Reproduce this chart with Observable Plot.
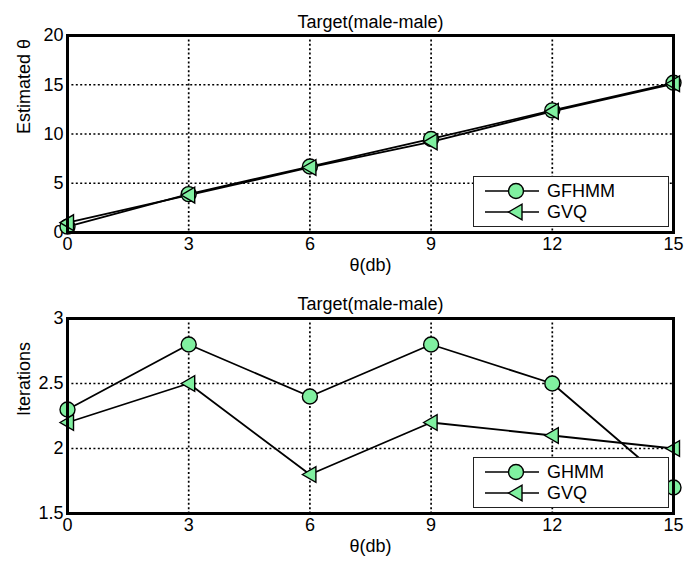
<!DOCTYPE html>
<html>
<head>
<meta charset="utf-8">
<script src="https://cdn.jsdelivr.net/npm/d3@7"></script>
<script src="https://cdn.jsdelivr.net/npm/@observablehq/plot@0.6"></script>
<style>
  body { margin: 0; background: white; }
  #wrap { position: relative; width: 694px; height: 564px; font-family: "Liberation Sans", Arial, sans-serif; }
  .legend { position: absolute; box-sizing: border-box; background: white; border: 1px solid #222; }
</style>
</head>
<body>
<div id="wrap"></div>
<script>
// ---- data ----
const xValues = [0, 3, 6, 9, 12, 15];
const xTicks = [0, 3, 6, 9, 12, 15];
const topTicksY = [0, 5, 10, 15, 20];
const bottomTicksY = [1.5, 2, 2.5, 3];
const titleText = "Target(male-male)";
const xLabelText = "θ(db)";
const topYLabel = "Estimated θ";
const bottomYLabel = "Iterations";
const topSeriesNames = ["GFHMM", "GVQ"];
const bottomSeriesNames = ["GHMM", "GVQ"];
const topGFHMM = [0.6, 3.9, 6.7, 9.5, 12.4, 15.2];
const topGVQ = [1.0, 3.8, 6.6, 9.2, 12.3, 15.1];
const bottomGHMM = [2.3, 2.8, 2.4, 2.8, 2.5, 1.7];
const bottomGVQ = [2.2, 2.5, 1.8, 2.2, 2.1, 2.0];

const markerFill = "#80f0a0";
const FONT = "'Liberation Sans', Arial, sans-serif";

const triangleLeft = {
  draw(context, size) {
    const r = Math.sqrt(size / Math.PI);
    context.moveTo(-r, 0);
    context.lineTo(r * 0.8, -r * 1.05);
    context.lineTo(r * 0.8, r * 1.05);
    context.closePath();
  }
};

function toRows(vals) { return xValues.map((x, i) => ({x, y: vals[i]})); }

function makePlot({yDomain, yTicks, yLabel, s1, s2, marginTop, marginBottom, height, titleDy}) {
  const d1 = toRows(s1), d2 = toRows(s2);
  return Plot.plot({
    width: 694,
    height,
    marginLeft: 67,
    marginRight: 21,
    marginTop,
    marginBottom,
    style: {fontFamily: FONT, fontSize: "18px", color: "black", background: "white", overflow: "visible"},
    x: {domain: [0, 15], label: null},
    y: {domain: yDomain, label: null},
    marks: [
      Plot.gridX(xTicks, {stroke: "black", strokeOpacity: 1, strokeWidth: 1.7, strokeDasharray: "2,2.4"}),
      Plot.gridY(yTicks, {stroke: "black", strokeOpacity: 1, strokeWidth: 1.7, strokeDasharray: "2,2.4"}),
      Plot.axisX(xTicks, {tickSize: 0, tickPadding: 5, fontSize: 18}),
      Plot.axisY(yTicks, {tickSize: 0, tickPadding: 4, fontSize: 18, tickFormat: d => String(d)}),
      Plot.line(d1, {x: "x", y: "y", stroke: "black", strokeWidth: 1.8}),
      Plot.line(d2, {x: "x", y: "y", stroke: "black", strokeWidth: 1.8}),
      Plot.dot(d1, {x: "x", y: "y", r: 7.5, symbol: "circle", fill: markerFill, stroke: "black", strokeWidth: 1.4}),
      Plot.dot(d2, {x: "x", y: "y", r: 7.5, symbol: triangleLeft, fill: markerFill, stroke: "black", strokeWidth: 1.4}),
      Plot.frame({stroke: "black", strokeWidth: 3}),
      Plot.text([titleText], {frameAnchor: "top", dy: titleDy, fontSize: 18, fill: "black"}),
      Plot.text([xLabelText], {frameAnchor: "bottom", dy: 38, fontSize: 18, fill: "black"}),
      Plot.text([yLabel], {frameAnchor: "left", dx: -43, rotate: -90, fontSize: 18, fill: "black"})
    ]
  });
}

const wrap = document.getElementById("wrap");

const topChart = makePlot({
  yDomain: [0, 20], yTicks: topTicksY, yLabel: topYLabel,
  s1: topGFHMM, s2: topGVQ, marginTop: 35, marginBottom: 50, height: 282, titleDy: -20
});
const bottomChart = makePlot({
  yDomain: [1.5, 3], yTicks: bottomTicksY, yLabel: bottomYLabel,
  s1: bottomGHMM, s2: bottomGVQ, marginTop: 36, marginBottom: 51, height: 282, titleDy: -21
});
topChart.style.display = "block";
bottomChart.style.display = "block";
wrap.appendChild(topChart);
wrap.appendChild(bottomChart);

function makeLegend(names, left, topPx) {
  const div = document.createElement("div");
  div.className = "legend";
  div.style.left = left + "px";
  div.style.top = topPx + "px";
  div.style.width = "196px";
  div.style.height = "51px";
  const svg = d3.create("svg").attr("width", 194).attr("height", 49)
    .style("display", "block").style("overflow", "visible");
  const rowsY = [14, 35];
  names.forEach((name, i) => {
    const g = svg.append("g").attr("transform", `translate(0,${rowsY[i]})`);
    g.append("line").attr("x1", 11).attr("x2", 65).attr("stroke", "black").attr("stroke-width", 1.6);
    if (i === 0) {
      g.append("circle").attr("cx", 42).attr("r", 7.5).attr("fill", markerFill).attr("stroke", "black").attr("stroke-width", 1.4);
    } else {
      const r = 7.5;
      g.append("path").attr("transform", "translate(42,0)")
        .attr("d", `M${-r},0L${r*0.8},${-r*1.05}L${r*0.8},${r*1.05}Z`)
        .attr("fill", markerFill).attr("stroke", "black").attr("stroke-width", 1.4);
    }
    g.append("text").attr("x", 73).attr("y", 0).attr("dy", "0.36em")
      .attr("font-size", 18).attr("fill", "black")
      .attr("font-family", FONT).text(name);
  });
  div.appendChild(svg.node());
  wrap.appendChild(div);
}
makeLegend(topSeriesNames, 473, 176);
makeLegend(bottomSeriesNames, 473, 457);
</script>
</body>
</html>
